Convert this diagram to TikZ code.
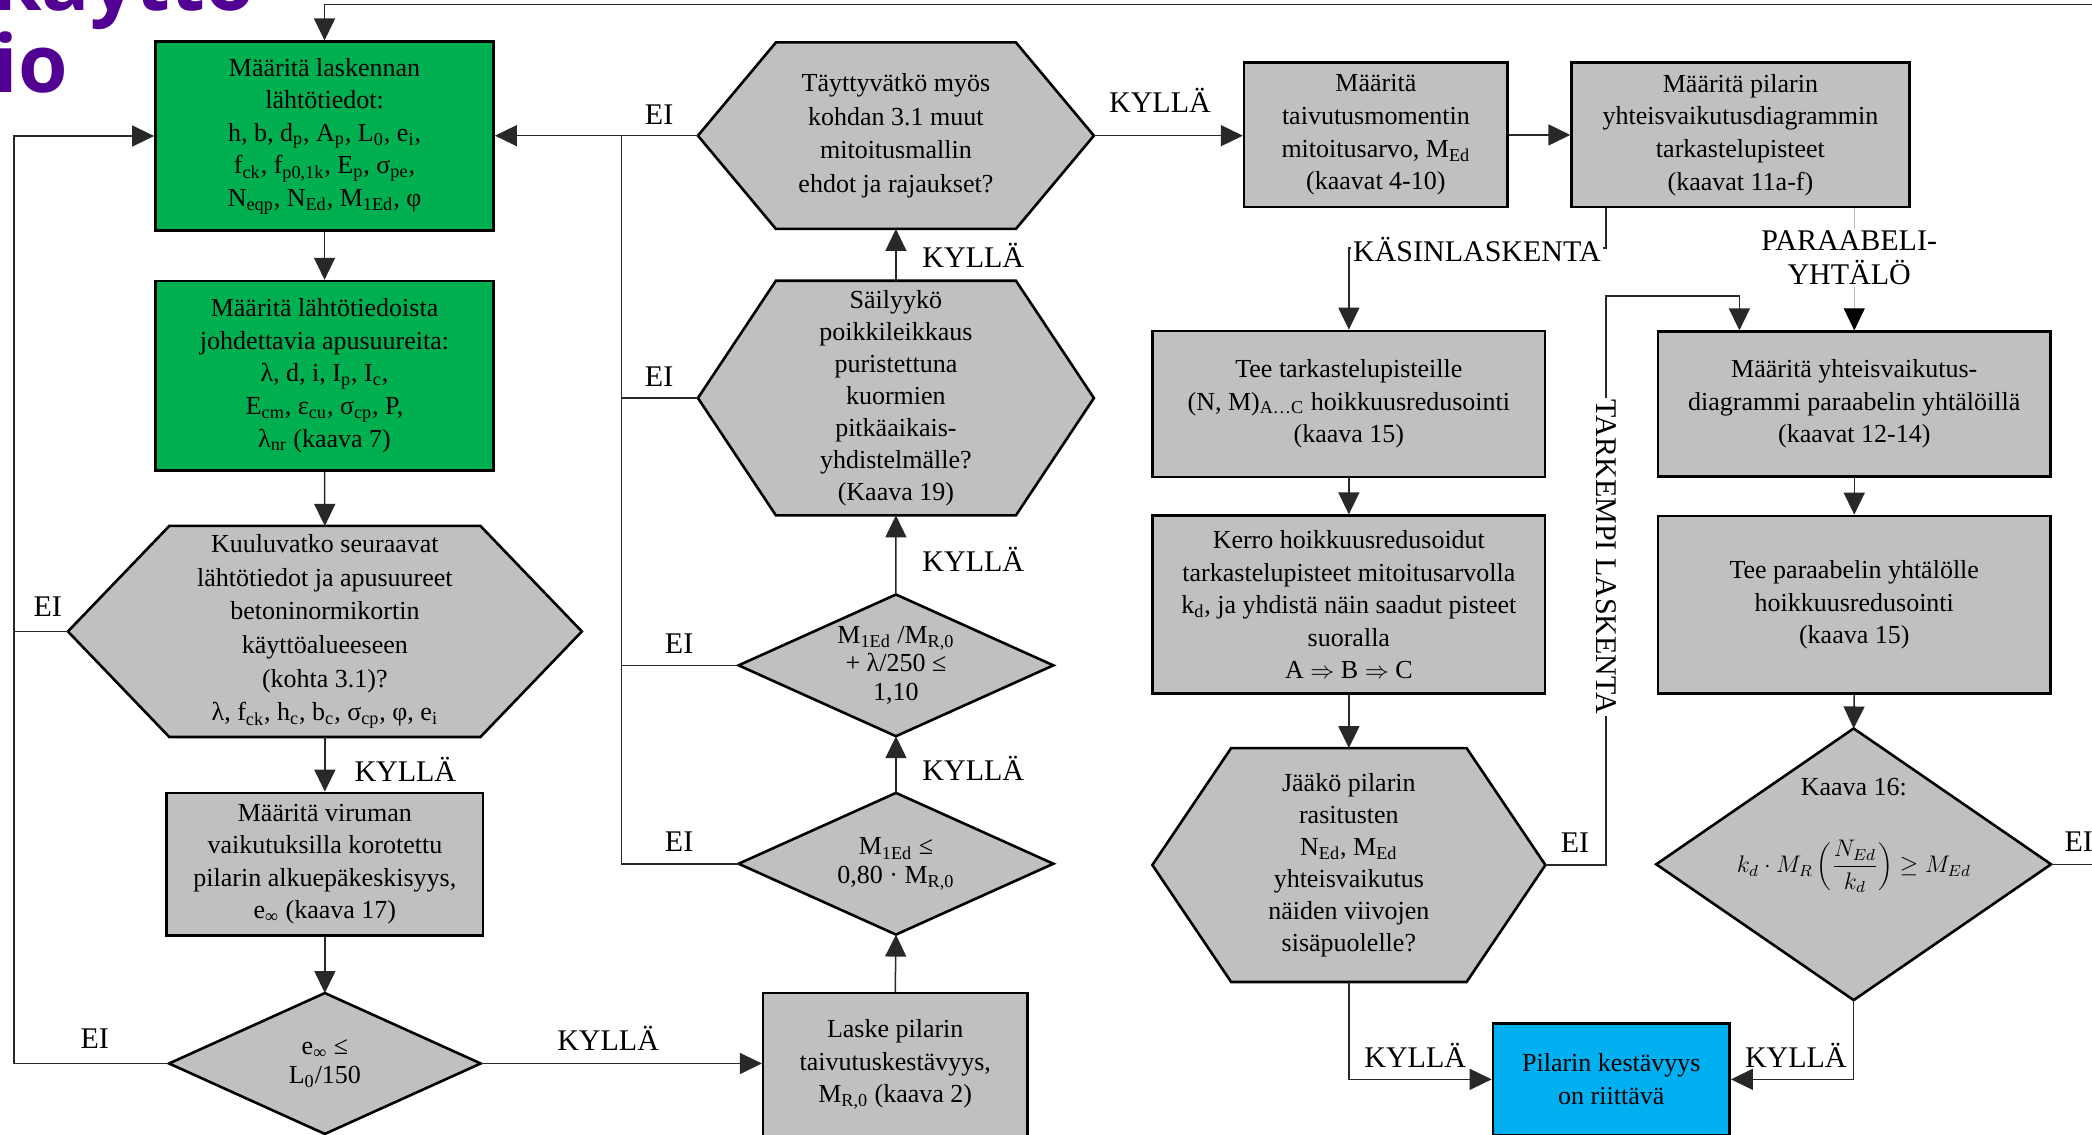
\documentclass[tikz,border=0pt]{standalone}
\usepackage{fontspec}
\setmainfont{Liberation Serif}
\newfontfamily\titlefamily{Open Sans}
\usetikzlibrary{arrows.meta,backgrounds,calc}
\definecolor{boxgreen}{RGB}{0,176,80}
\definecolor{boxgray}{RGB}{192,192,192}
\definecolor{boxblue}{RGB}{0,176,240}
\definecolor{titlepurple}{RGB}{82,0,148}
\definecolor{linecol}{RGB}{40,40,40}
\newcommand\sbs[1]{\textsubscript{#1}}
\newcommand\boxfont{\fontsize{13}{16.3}\selectfont}
\newcommand\hexfont{\fontsize{13}{16.8}\selectfont}
\newcommand\hexfontb{\fontsize{13}{16}\selectfont}
\newcommand\lblfont{\fontsize{15}{17}\selectfont}
\newcommand\titlefont{\titlefamily\bfseries\fontsize{40}{40}\selectfont}
% node spanning the box (x1,y1)-(x2,y2), in picture units
\newcommand\bx[7]{\node[#1, minimum width={(#5-#3)*0.66709pt}, minimum height={(#6-#4)*0.66709pt}] (#2) at ({(#3+#5)/2},{(#4+#6)/2}) {#7};}
\newcommand\hexshape[2]{\path[shpdraw] (#1.west) -- ([xshift=#2]#1.north west) -- ([xshift=-#2]#1.north east) -- (#1.east) -- ([xshift=-#2]#1.south east) -- ([xshift=#2]#1.south west) -- cycle;}
\newcommand\diamshape[1]{\path[shpdraw] (#1.west) -- (#1.north) -- (#1.east) -- (#1.south) -- cycle;}
\begin{document}
\begin{tikzpicture}[x=0.66709pt,y=-0.66709pt,
  base/.style={draw=black, line width=1.3pt, inner sep=0pt, align=center, font=\boxfont, text=black},
  gbox/.style={base, fill=boxgreen},
  rbox/.style={base, fill=boxgray},
  bbox/.style={base, fill=boxblue},
  shp/.style={inner sep=0pt, align=center, font=\boxfont},
  hshp/.style={shp, font=\hexfont},
  hshpb/.style={shp, font=\hexfontb},
  shpdraw/.style={draw=black, line width=1.3pt, fill=boxgray},
  lbl/.style={font=\lblfont, inner sep=1pt},
  wlbl/.style={lbl, fill=white},
  ln/.style={draw=linecol, line width=0.75pt},
  arr/.style={ln, -{Triangle[length=11pt,width=10.5pt]}},
  arrg/.style={draw=gray!55, line width=0.5pt, -{Triangle[length=11pt,width=10.5pt,color=black]}},
  titletext/.style={font=\titlefont, text=titlepurple, inner sep=0pt, anchor=base west},
]
\useasboundingbox (0,0) rectangle (1568,850);
\clip (0,0) rectangle (1568,850);

% title fragments
\node[titletext] (t1) at (-6,8) {käyttö};
\node[titletext] (t2) at (-5,69.7) {io};

% left column
\bx{gbox}{b1}{116.5}{31.3}{370}{172.6}{Määritä laskennan\\lähtötiedot:\\h, b, d\sbs{p}, A\sbs{p}, L\sbs{0}, e\sbs{i},\\f\sbs{ck}, f\sbs{p0,1k}, E\sbs{p}, σ\sbs{pe},\\N\sbs{eqp}, N\sbs{Ed}, M\sbs{1Ed}, φ}
\bx{gbox}{b2}{116.5}{210.7}{370}{352.5}{Määritä lähtötiedoista\\johdettavia apusuureita:\\λ, d, i, I\sbs{p}, I\sbs{c},\\E\sbs{cm}, ε\sbs{cu}, σ\sbs{cp}, P,\\λ\sbs{nr} (kaava 7)}
\bx{hshp}{h1}{51.2}{394.5}{435.8}{552.1}{Kuuluvatko seuraavat\\lähtötiedot ja apusuureet\\betoninormikortin\\käyttöalueeseen\\(kohta 3.1)?\\λ, f\sbs{ck}, h\sbs{c}, b\sbs{c}, σ\sbs{cp}, φ, e\sbs{i}}
\bx{rbox}{b3}{125}{594.3}{362}{701}{Määritä viruman\\vaikutuksilla korotettu\\pilarin alkuepäkeskisyys,\\e\sbs{∞} (kaava 17)}
\bx{shp}{d1}{127}{744.6}{360}{849.6}{e\sbs{∞} ≤\\[-2pt]L\sbs{0}/150}

% middle column
\bx{rbox}{b4}{572}{744.4}{770}{851.5}{Laske pilarin\\taivutuskestävyys,\\M\sbs{R,0} (kaava 2)}
\bx{shp}{d2}{553.9}{594.6}{789.2}{700.2}{M\sbs{1Ed} ≤\\[-2pt]0,80 · M\sbs{R,0}}
\bx{shp}{d3}{553.9}{445.9}{789.2}{551.5}{M\sbs{1Ed} /M\sbs{R,0}\\[-2pt]+ λ/250 ≤\\[-2pt]1,10}
\bx{hshpb}{h2}{523.4}{210.7}{819.6}{386}{Säilyykö\\poikkileikkaus\\puristettuna\\kuormien\\pitkäaikais-\\yhdistelmälle?\\(Kaava 19)}
\bx{hshp}{h3}{523.4}{32.1}{819.6}{171.3}{Täyttyvätkö myös\\kohdan 3.1 muut\\mitoitusmallin\\ehdot ja rajaukset?}

% top right
\bx{rbox}{b5}{932.5}{47}{1130}{155.3}{Määritä\\taivutusmomentin\\mitoitusarvo, M\sbs{Ed}\\(kaavat 4-10)}
\bx{rbox}{b6}{1178}{47}{1431}{155.3}{Määritä pilarin\\yhteisvaikutusdiagrammin\\tarkastelupisteet\\(kaavat 11a-f)}

% hand calculation column
\bx{rbox}{b7}{864}{248}{1158}{357.4}{Tee tarkastelupisteille\\(N, M)\sbs{A…C} hoikkuusredusointi\\(kaava 15)}
\bx{rbox}{b9}{864}{386.5}{1158}{520}{Kerro hoikkuusredusoidut\\tarkastelupisteet mitoitusarvolla\\k\sbs{d}, ja yhdistä näin saadut pisteet\\suoralla\\A $\Rightarrow$ B $\Rightarrow$ C}
\bx{hshpb}{h4}{864}{561}{1158}{735.7}{Jääkö pilarin\\rasitusten\\N\sbs{Ed}, M\sbs{Ed}\\yhteisvaikutus\\näiden viivojen\\sisäpuolelle?}

% parabola column
\bx{rbox}{b8}{1242.6}{248.6}{1537}{357}{Määritä yhteisvaikutus-\\diagrammi paraabelin yhtälöillä\\(kaavat 12-14)}
\bx{rbox}{b10}{1242.6}{386.7}{1537}{520}{Tee paraabelin yhtälölle\\hoikkuusredusointi\\(kaava 15)}
\bx{shp}{d4}{1241.7}{546.3}{1537}{749.3}{}
\node[shp] (d4a) at (1389.5,590) {Kaava 16:};
\node[shp, font=\fontsize{12}{14}\selectfont] (d4b) at (1389.5,649.5) {$\displaystyle k_d\cdot M_R\left(\frac{N_{Ed}}{k_d}\right)\geq M_{Ed}$};

\bx{bbox}{b11}{1119}{767}{1296.4}{851}{Pilarin kestävyys\\on riittävä}

% shapes drawn beneath
\begin{scope}[on background layer]
  \fill[white] (0,0) rectangle (1568,850);
  \hexshape{h1}{50.7pt}
  \hexshape{h2}{39pt}
  \hexshape{h3}{39pt}
  \hexshape{h4}{39.4pt}
  \diamshape{d1}
  \diamshape{d2}
  \diamshape{d3}
  \diamshape{d4}
\end{scope}

% helper coordinates
\coordinate (topR) at (1568,3.5);
\coordinate (lv) at (10.4,0);
\coordinate (rv) at (466,0);
\coordinate (kx) at (1203.6,186);
\coordinate (tt) at (1303.7,222);
\coordinate (rE) at (1568,647.8);

% connectors
\draw[arr] (topR) -| (b1.north);
\draw[arr] (b1.south) -- (b2.north);
\draw[arr] (b2.south) -- (h1.north);
\draw[arr] (h1.south) -- (b3.north);
\draw[arr] (b3.south) -- (d1.north);
\draw[arr] (d1.west) -- (d1.west -| lv) -- (b1.west -| lv) -- (b1.west);
\draw[ln] (h1.west) -- (h1.west -| lv);
\draw[arr] (d1.east) -- (d1.east -| b4.west);
\draw[arr] (b4.north) -- (d2.south);
\draw[arr] (d2.north) -- (d3.south);
\draw[arr] (d3.north) -- (h2.south);
\draw[arr] (h2.north) -- (h3.south);
\draw[arr] (h3.west) -- (h3.west -| b1.east);
\draw[ln] (d2.west) -- (d2.west -| rv) -- (h3.west -| rv);
\draw[ln] (h2.west) -- (h2.west -| rv);
\draw[ln] (d3.west) -- (d3.west -| rv);
\draw[arr] (h3.east) -- (h3.east -| b5.west);
\draw[arr] (b5.east) -- (b6.west);
\draw[arr] (kx |- b6.south) -- (kx) -| (b7.north);
\draw[arrg] (b8.north |- b6.south) -- (b8.north);
\draw[arr] (h4.east) -- (h4.east -| kx) -- (kx |- tt) -- (tt) -- (tt |- b8.north);
\draw[arr] (b7.south) -- (b9.north);
\draw[arr] (b9.south) -- (h4.north);
\draw[arr] (b8.south) -- (b10.north);
\draw[arr] (b10.south) -- (d4.north);
\draw[arr] (h4.south) |- (b11.west);
\draw[arr] (d4.south) |- (b11.east);
\draw[ln] (d4.east) -- (rE);

% labels
\node[lbl] (l1) at (303.8,576.6) {KYLLÄ};
\node[lbl] (l2) at (35.8,455) {EI};
\node[lbl] (l3) at (71,778.6) {EI};
\node[lbl] (l4) at (455.8,778) {KYLLÄ};
\node[lbl] (l5) at (494,86) {EI};
\node[lbl] (l6) at (494,282.5) {EI};
\node[lbl] (l7) at (509,482.4) {EI};
\node[lbl] (l8) at (509,631) {EI};
\node[lbl] (l9) at (729.5,191.3) {KYLLÄ};
\node[lbl] (l10) at (729.5,419) {KYLLÄ};
\node[lbl] (l11) at (729.5,576.2) {KYLLÄ};
\node[lbl] (l12) at (869.4,75.5) {KYLLÄ};
\node[wlbl] (l13) at (1107,187) {KÄSINLASKENTA};
\node[wlbl, align=center] (l14) at (1386,193.5) {PARAABELI-\\YHTÄLÖ};
\node[wlbl, rotate=-90] (l15) at (1203.6,417.5) {TARKEMPI LASKENTA};
\node[lbl] (l16) at (1180.5,631.6) {EI};
\node[lbl] (l17) at (1060.7,791) {KYLLÄ};
\node[lbl] (l18) at (1346,791) {KYLLÄ};
\node[lbl] (l19) at (1558,631) {EI};
\end{tikzpicture}
\end{document}
